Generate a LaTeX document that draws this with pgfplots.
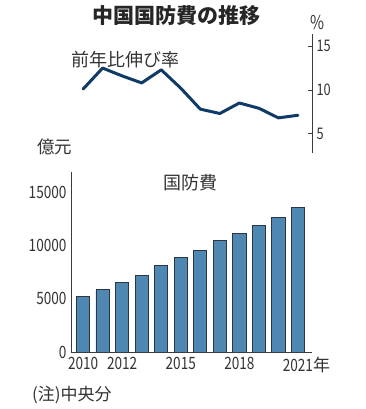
\documentclass[border=0pt]{standalone}
\usepackage{pgfplots}
\pgfplotsset{compat=1.18}
\usepackage{fontspec}
\setmainfont{Noto Sans CJK JP}
\newfontfamily\cjkfont{Noto Sans CJK JP}
\newfontfamily\numfont[FakeStretch=0.8]{Noto Sans CJK JP}

\definecolor{txt}{HTML}{333333}
\definecolor{barfill}{HTML}{4E87B1}
\definecolor{baredge}{HTML}{2B3640}
\definecolor{lineblue}{HTML}{103B66}
\definecolor{axisgray}{HTML}{3C3C3C}

% year-on-year growth (%)
\pgfplotstableread{
year growth
2010 10.1
2011 12.5
2012 11.6
2013 10.8
2014 12.3
2015 10.2
2016 7.8
2017 7.3
2018 8.5
2019 7.9
2020 6.8
2021 7.1
}\growthdata

% defence budget (100 million yuan)
\pgfplotstableread{
year budget
2010 5200
2011 5840
2012 6530
2013 7220
2014 8100
2015 8880
2016 9530
2017 10440
2018 11100
2019 11880
2020 12670
2021 13550
}\budgetdata

\begin{document}
\begin{tikzpicture}
\path[use as bounding box] (0pt,0pt) rectangle (365pt,409pt);

% growth rate panel
\begin{axis}[
  at={(71pt,256pt)}, anchor=south west,
  width=241pt, height=119pt, scale only axis,
  xmin=2009.38, xmax=2021.72,
  ymin=2.78, ymax=16.4,
  axis x line=none,
  axis y line=right,
  axis line style={-, axisgray, line width=0.9pt},
  ytick={5,10,15},
  tick align=inside,
  major tick length=4pt,
  tick style={axisgray, line width=0.8pt},
  /pgf/number format/assume math mode=true,
  yticklabel style={font=\numfont\fontsize{16}{16}\selectfont, text=txt, xshift=1pt},
  clip=false,
]
\addplot[lineblue, line width=3pt, line join=round, line cap=round] table[x=year, y=growth] {\growthdata};
\end{axis}

% budget panel
\begin{axis}[
  at={(71pt,57pt)}, anchor=south west,
  width=241pt, height=180pt, scale only axis,
  xmin=2009.38, xmax=2021.72,
  ymin=0, ymax=16900,
  axis x line=bottom,
  axis y line=left,
  axis line style={-, axisgray, line width=0.9pt},
  ybar, bar width=13.3pt,
  ytick={0,5000,10000,15000},
  xtick={2010,2012,2015,2018,2021},
  xticklabels={2010,2012,2015,2018,2021\rlap{\cjkfont 年}},
  major tick length=0pt,
  scaled ticks=false,
  /pgf/number format/1000 sep={},
  /pgf/number format/assume math mode=true,
  yticklabel style={font=\numfont\fontsize{17}{17}\selectfont, text=txt, xshift=-1pt},
  xticklabel style={font=\numfont\fontsize{17}{17}\selectfont, text=txt, yshift=-2pt},
]
\addplot[fill=barfill, draw=baredge, line width=0.9pt] table[x=year, y=budget] {\budgetdata};
\end{axis}

% titles and notes
\node[inner sep=0pt, text=black!85, font=\bfseries\fontsize{21}{21}\selectfont] at (176pt,393pt) {中国国防費の推移};
\node[inner sep=0pt, text=txt, font=\numfont\fontsize{19}{19}\selectfont] at (317pt,386pt) {\%};
\node[inner sep=0pt, text=txt, font=\fontsize{18}{18}\selectfont] at (125pt,349pt) {前年比伸び率};
\node[inner sep=0pt, text=txt, font=\fontsize{17.5}{17.5}\selectfont] at (54.5pt,262pt) {億元};
\node[inner sep=0pt, text=txt, font=\fontsize{18}{18}\selectfont] at (190pt,226pt) {国防費};
\node[inner sep=0pt, anchor=west, text=txt, font=\fontsize{17}{17}\selectfont] at (32pt,14pt) {(注)中央分};
\end{tikzpicture}
\end{document}
